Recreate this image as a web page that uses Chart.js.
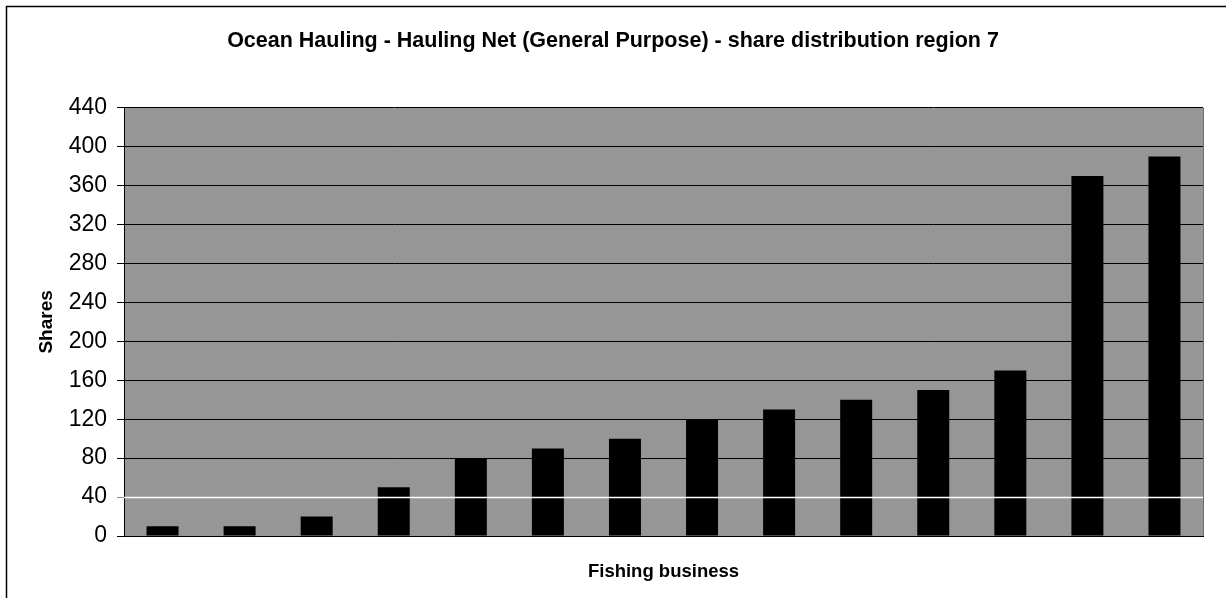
<!DOCTYPE html>
<html>
<head>
<meta charset="utf-8">
<title>Ocean Hauling - share distribution region 7</title>
<script src="https://cdn.jsdelivr.net/npm/chart.js@4"></script>
<style>
    html, body { margin: 0; padding: 0; background: #ffffff; }
    #wrap { width: 1226px; height: 598px; position: relative; overflow: hidden; }
</style>
</head>
<body>
<div id="wrap">
    <canvas id="chart" width="1226" height="598"></canvas>
</div>
<script>
// data
const businesses = ['1', '2', '3', '4', '5', '6', '7', '8', '9', '10', '11', '12', '13', '14'];
const shares = [10, 10, 20, 50, 80, 90, 100, 120, 130, 140, 150, 170, 370, 390];
const yTicks = [0, 40, 80, 120, 160, 200, 240, 280, 320, 360, 400, 440];
const whiteLineValue = 40;

const chartTitle = 'Ocean Hauling - Hauling Net (General Purpose) - share distribution region 7';
const xTitle = 'Fishing business';
const yTitle = 'Shares';

const fontFamily = "'Liberation Sans', Arial, sans-serif";

// plot background, outer frame, and the white line that sits on top of the bars
const plotDecor = {
    id: 'plotDecor',
    beforeDraw(chart) {
        const { ctx, chartArea } = chart;
        ctx.save();
        ctx.fillStyle = '#ffffff';
        ctx.fillRect(0, 0, chart.width, chart.height);
        ctx.strokeStyle = '#000000';
        ctx.lineWidth = 1.5;
        ctx.strokeRect(6.5, 6.5, 1400, 800);
        ctx.fillStyle = '#969696';
        ctx.fillRect(chartArea.left, chartArea.top, chartArea.right - chartArea.left, chartArea.bottom - chartArea.top);
        ctx.restore();
    },
    afterDatasetsDraw(chart) {
        const { ctx, chartArea, scales } = chart;
        const y = Math.round(scales.y.getPixelForValue(whiteLineValue)) + 0.5;
        ctx.save();
        ctx.strokeStyle = '#ffffff';
        ctx.lineWidth = 1.5;
        ctx.beginPath();
        ctx.moveTo(chartArea.left, y);
        ctx.lineTo(chartArea.right, y);
        ctx.stroke();
        // right edge of the plot area
        ctx.strokeStyle = '#6e6e6e';
        ctx.lineWidth = 1;
        ctx.beginPath();
        ctx.moveTo(chartArea.right + 0.5, chartArea.top);
        ctx.lineTo(chartArea.right + 0.5, chartArea.bottom);
        ctx.stroke();
        ctx.restore();
    }
};

const ctx = document.getElementById('chart').getContext('2d');
new Chart(ctx, {
    type: 'bar',
    data: {
        labels: businesses,
        datasets: [{
            label: yTitle,
            data: shares,
            backgroundColor: '#000000',
            borderWidth: 0,
            categoryPercentage: 1.0,
            barPercentage: 0.415
        }]
    },
    options: {
        responsive: false,
        animation: false,
        layout: { padding: 0 },
        plugins: {
            legend: { display: false },
            tooltip: { enabled: false },
            title: {
                display: true,
                text: chartTitle,
                color: '#000000',
                font: { family: fontFamily, size: 21.5, weight: 'bold' },
                padding: { top: 28, bottom: 54 }
            }
        },
        scales: {
            x: {
                grid: { display: false },
                border: { display: true, color: '#000000', width: 1 },
                ticks: { display: false },
                title: {
                    display: true,
                    text: xTitle,
                    color: '#000000',
                    font: { family: fontFamily, size: 18.5, weight: 'bold' },
                    padding: { top: 0, bottom: 15 }
                },
                afterFit(scale) { scale.height = 62; }
            },
            y: {
                min: 0,
                max: 440,
                afterBuildTicks(scale) {
                    scale.ticks = yTicks.map(v => ({ value: v }));
                },
                grid: {
                    color: '#000000',
                    lineWidth: 1,
                    tickLength: 7,
                    tickColor: ctx => ctx.tick && ctx.tick.value === whiteLineValue ? '#8c8c8c' : '#000000'
                },
                border: { display: true, color: '#000000', width: 1 },
                ticks: {
                    color: '#000000',
                    padding: 10,
                    font: { family: fontFamily, size: 23 }
                },
                title: {
                    display: true,
                    text: yTitle,
                    color: '#000000',
                    font: { family: fontFamily, size: 19, weight: 'bold' },
                    padding: { top: 35, bottom: 0 }
                },
                afterFit(scale) { scale.width = 124; }
            },
            // empty right-hand axis that only reserves the margin right of the plot
            yRight: {
                position: 'right',
                min: 0,
                max: 440,
                grid: { display: false },
                border: { display: false },
                ticks: { display: false },
                afterFit(scale) { scale.width = 23; }
            }
        }
    },
    plugins: [plotDecor]
});
</script>
</body>
</html>
